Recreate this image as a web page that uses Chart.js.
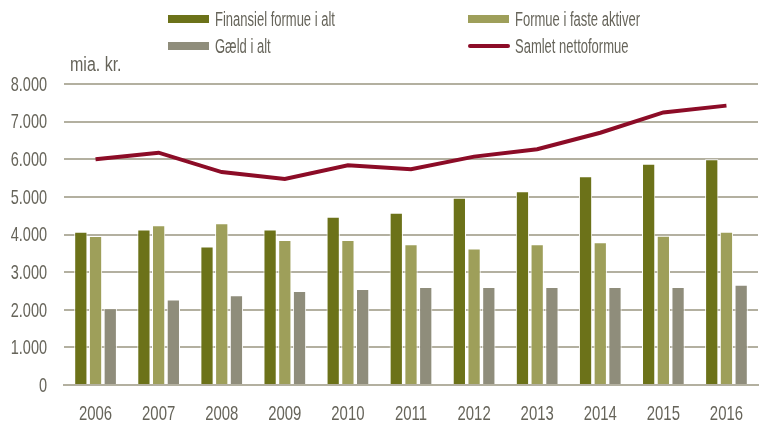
<!DOCTYPE html>
<html>
<head>
<meta charset="utf-8">
<script src="https://cdn.jsdelivr.net/npm/chart.js@4/dist/chart.umd.min.js"></script>
<style>
  html, body { margin: 0; padding: 0; background: #fff; }
</style>
</head>
<body>
<canvas id="chart" width="760" height="424"></canvas>
<script>
// Categories and series (mia. kr.)
const years = ['2006', '2007', '2008', '2009', '2010', '2011', '2012', '2013', '2014', '2015', '2016'];
const finansiel = [4075, 4130, 3680, 4130, 4470, 4580, 4980, 5150, 5550, 5880, 6000];
const fasteAktiver = [3960, 4245, 4300, 3855, 3855, 3740, 3625, 3740, 3795, 3970, 4075];
const gaeld = [2040, 2270, 2385, 2500, 2550, 2605, 2605, 2605, 2605, 2605, 2665];
const nettoformue = [6000, 6175, 5660, 5475, 5840, 5735, 6070, 6265, 6705, 7245, 7425];
const yTicks = [0, 1000, 2000, 3000, 4000, 5000, 6000, 7000, 8000];
const yTickLabels = ['0', '1.000', '2.000', '3.000', '4.000', '5.000', '6.000', '7.000', '8.000'];

const seriesNames = ['Finansiel formue i alt', 'Formue i faste aktiver', 'Gæld i alt', 'Samlet nettoformue'];
const colors = ['#6c7219', '#9e9f5a', '#8f8d7b', '#8c0c27'];
const textColor = '#66645a';
const gridColor = '#b3b0a0';
const font = "'Liberation Sans', Arial, sans-serif";

// narrow text: draw squeezed horizontally
function narrowText(c, text, x, y, align, size, sx) {
    c.save();
    c.font = size + 'px ' + font;
    c.fillStyle = textColor;
    c.textBaseline = 'middle';
    c.textAlign = align;
    c.translate(x, y);
    c.scale(sx, 1);
    c.fillText(text, 0, 0);
    c.restore();
}

const textPlugin = {
    id: 'narrowLabels',
    afterDraw(chart) {
        const c = chart.ctx;
        const xs = chart.scales.x, ys = chart.scales.y;
        yTicks.forEach((v, i) => narrowText(c, yTickLabels[i], 47, ys.getPixelForValue(v) + 1, 'right', 21, 0.69));
        years.forEach((yr, i) => narrowText(c, yr, xs.getPixelForValue(i), 414, 'center', 21, 0.71));
        narrowText(c, 'mia. kr.', 70, 65, 'left', 20, 0.8);

        // legend, two columns
        const pos = [[168, 19], [468, 19], [168, 46], [468, 46]];
        chart.data.datasets.forEach((ds, i) => {
            const [lx, ly] = pos[i];
            c.save();
            if (ds.type === 'line') {
                c.strokeStyle = ds.borderColor;
                c.lineWidth = 4;
                c.lineCap = 'round';
                c.beginPath();
                c.moveTo(lx + 2, ly);
                c.lineTo(lx + 40, ly);
                c.stroke();
            } else {
                c.fillStyle = ds.backgroundColor;
                c.fillRect(lx, ly - 4, 41, 8);
            }
            c.restore();
            narrowText(c, ds.label, lx + 47, ly + 1, 'left', 20, 0.65);
        });
    }
};

function barSet(label, data, color) {
    return {
        type: 'bar',
        label: label,
        data: data,
        backgroundColor: color,
        borderColor: '#ffffff',
        borderWidth: 1,
        borderSkipped: 'bottom',
        categoryPercentage: 0.7,
        barPercentage: 0.9,
        order: 1
    };
}

const ctx = document.getElementById('chart').getContext('2d');
const chart = new Chart(ctx, {
    data: {
        labels: years,
        datasets: [
            barSet(seriesNames[0], finansiel, colors[0]),
            barSet(seriesNames[1], fasteAktiver, colors[1]),
            barSet(seriesNames[2], gaeld, colors[2]),
            {
                type: 'line',
                label: seriesNames[3],
                data: nettoformue,
                borderColor: colors[3],
                borderWidth: 4,
                pointRadius: 0,
                tension: 0,
                fill: false,
                order: 0
            }
        ]
    },
    options: {
        responsive: false,
        animation: false,
        layout: { padding: { top: 84, left: 64, right: 2, bottom: 31 } },
        plugins: { legend: { display: false }, tooltip: { enabled: false } },
        scales: {
            x: {
                grid: { display: false },
                border: { color: gridColor, width: 2 },
                ticks: { display: false }
            },
            y: {
                min: 0,
                max: 8000,
                afterBuildTicks: (axis) => { axis.ticks = yTicks.map(v => ({ value: v })); },
                grid: { color: gridColor, lineWidth: 2, drawTicks: false },
                border: { display: false },
                ticks: { display: false }
            }
        }
    },
    plugins: [textPlugin]
});
</script>
</body>
</html>
